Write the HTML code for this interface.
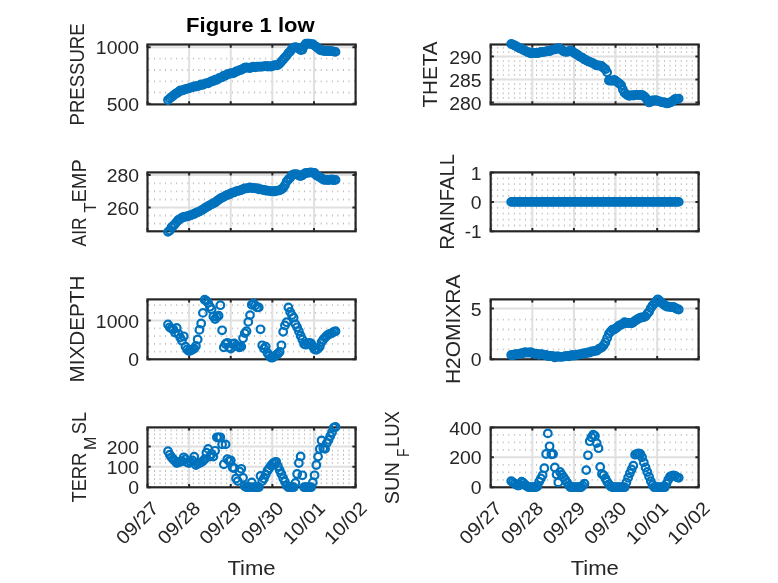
<!DOCTYPE html>
<html lang="en"><head><meta charset="utf-8"><title>Figure 1 low</title>
<style>html,body{margin:0;padding:0;background:#fff}svg{display:block}</style></head><body>
<svg width="778" height="583" viewBox="0 0 778 583" font-family='"Liberation Sans", "DejaVu Sans", sans-serif' fill="#262626">
<rect width="778" height="583" fill="#ffffff"/>
<g>
<path d="M148.4 58.6H355.6M148.4 70H355.6M148.4 81.3H355.6M148.4 92.5H355.6" stroke="#bcbcbc" stroke-width="1.8" stroke-dasharray="1 4.56" fill="none"/>
<path d="M189.12 44.5V104.4M230.74 44.5V104.4M272.36 44.5V104.4M313.98 44.5V104.4M147.5 47.2H355.6" stroke="#e0e0e0" stroke-width="2" fill="none"/>
<rect x="147.5" y="44.5" width="208.1" height="59.9" fill="none" stroke="#262626" stroke-width="2.2"/>
<path d="M147.5 104.4v-3.2M147.5 44.5v3.2M189.12 104.4v-3.2M189.12 44.5v3.2M230.74 104.4v-3.2M230.74 44.5v3.2M272.36 104.4v-3.2M272.36 44.5v3.2M313.98 104.4v-3.2M313.98 44.5v3.2M355.6 104.4v-3.2M355.6 44.5v3.2M147.5 47.2h3.2M355.6 47.2h-3.2M147.5 103.7h3.2M355.6 103.7h-3.2" stroke="#262626" stroke-width="2" fill="none"/>
<text x="139" y="54.3" font-size="18.8" text-anchor="end" textLength="43.13" lengthAdjust="spacingAndGlyphs">1000</text>
<text x="139" y="110.8" font-size="18.8" text-anchor="end" textLength="32.35" lengthAdjust="spacingAndGlyphs">500</text>
<g fill="none" stroke="#0072BD" stroke-width="2.2"><circle cx="168" cy="100.03" r="3.8"/><circle cx="169.75" cy="98.4" r="3.8"/><circle cx="171.49" cy="97.07" r="3.8"/><circle cx="173.24" cy="95.7" r="3.8"/><circle cx="174.98" cy="94.15" r="3.8"/><circle cx="176.72" cy="93.2" r="3.8"/><circle cx="178.47" cy="92.01" r="3.8"/><circle cx="180.22" cy="90.34" r="3.8"/><circle cx="181.96" cy="90.64" r="3.8"/><circle cx="183.71" cy="89.98" r="3.8"/><circle cx="185.45" cy="89.08" r="3.8"/><circle cx="187.19" cy="88.68" r="3.8"/><circle cx="188.94" cy="88.36" r="3.8"/><circle cx="190.69" cy="87.66" r="3.8"/><circle cx="192.43" cy="87.2" r="3.8"/><circle cx="194.18" cy="86.37" r="3.8"/><circle cx="195.92" cy="86.51" r="3.8"/><circle cx="197.66" cy="85.92" r="3.8"/><circle cx="199.41" cy="85.49" r="3.8"/><circle cx="201.16" cy="84.49" r="3.8"/><circle cx="202.9" cy="84.91" r="3.8"/><circle cx="204.65" cy="83.91" r="3.8"/><circle cx="206.39" cy="83.2" r="3.8"/><circle cx="208.13" cy="83.37" r="3.8"/><circle cx="209.88" cy="82.19" r="3.8"/><circle cx="211.62" cy="81.22" r="3.8"/><circle cx="213.37" cy="80.98" r="3.8"/><circle cx="215.12" cy="79.66" r="3.8"/><circle cx="216.86" cy="79.8" r="3.8"/><circle cx="218.61" cy="78.5" r="3.8"/><circle cx="220.35" cy="77.54" r="3.8"/><circle cx="222.09" cy="77.22" r="3.8"/><circle cx="223.84" cy="75.61" r="3.8"/><circle cx="225.59" cy="75.62" r="3.8"/><circle cx="227.33" cy="74.19" r="3.8"/><circle cx="229.07" cy="73.97" r="3.8"/><circle cx="230.82" cy="73.16" r="3.8"/><circle cx="232.56" cy="73.31" r="3.8"/><circle cx="234.31" cy="72.74" r="3.8"/><circle cx="236.06" cy="71.45" r="3.8"/><circle cx="237.8" cy="71.14" r="3.8"/><circle cx="239.55" cy="70.18" r="3.8"/><circle cx="241.29" cy="69.74" r="3.8"/><circle cx="243.04" cy="68.68" r="3.8"/><circle cx="244.78" cy="67.73" r="3.8"/><circle cx="246.53" cy="67.42" r="3.8"/><circle cx="248.27" cy="67.82" r="3.8"/><circle cx="250.01" cy="68.12" r="3.8"/><circle cx="251.76" cy="67.26" r="3.8"/><circle cx="253.5" cy="66.77" r="3.8"/><circle cx="255.25" cy="67.24" r="3.8"/><circle cx="257" cy="66.71" r="3.8"/><circle cx="258.74" cy="66.71" r="3.8"/><circle cx="260.49" cy="66.72" r="3.8"/><circle cx="262.23" cy="66.53" r="3.8"/><circle cx="263.98" cy="66.4" r="3.8"/><circle cx="265.72" cy="65.99" r="3.8"/><circle cx="267.47" cy="66.5" r="3.8"/><circle cx="269.21" cy="66.24" r="3.8"/><circle cx="270.96" cy="66.55" r="3.8"/><circle cx="272.7" cy="66.01" r="3.8"/><circle cx="274.44" cy="65.12" r="3.8"/><circle cx="276.19" cy="65.12" r="3.8"/><circle cx="277.94" cy="65.13" r="3.8"/><circle cx="279.68" cy="63.66" r="3.8"/><circle cx="281.43" cy="61.53" r="3.8"/><circle cx="283.17" cy="59.47" r="3.8"/><circle cx="284.92" cy="57.55" r="3.8"/><circle cx="286.66" cy="55.59" r="3.8"/><circle cx="288.4" cy="53.04" r="3.8"/><circle cx="290.15" cy="51.56" r="3.8"/><circle cx="291.89" cy="48.75" r="3.8"/><circle cx="293.64" cy="47.7" r="3.8"/><circle cx="295.38" cy="47.27" r="3.8"/><circle cx="297.13" cy="47.53" r="3.8"/><circle cx="298.88" cy="48.43" r="3.8"/><circle cx="300.62" cy="50.02" r="3.8"/><circle cx="302.37" cy="49.71" r="3.8"/><circle cx="304.11" cy="46" r="3.8"/><circle cx="305.86" cy="43.72" r="3.8"/><circle cx="307.6" cy="43.72" r="3.8"/><circle cx="309.35" cy="43.62" r="3.8"/><circle cx="311.09" cy="44.07" r="3.8"/><circle cx="312.84" cy="44.26" r="3.8"/><circle cx="314.58" cy="45.61" r="3.8"/><circle cx="316.33" cy="46.8" r="3.8"/><circle cx="318.07" cy="48.21" r="3.8"/><circle cx="319.81" cy="49.82" r="3.8"/><circle cx="321.56" cy="50.46" r="3.8"/><circle cx="323.31" cy="50.77" r="3.8"/><circle cx="325.05" cy="51.02" r="3.8"/><circle cx="326.8" cy="51.14" r="3.8"/><circle cx="328.54" cy="51.02" r="3.8"/><circle cx="330.28" cy="51.09" r="3.8"/><circle cx="332.03" cy="51.17" r="3.8"/><circle cx="333.77" cy="51.61" r="3.8"/><circle cx="335.52" cy="51.89" r="3.8"/></g>
</g>
<g>
<path d="M491.6 47.9H698.6M491.6 52.1H698.6M491.6 61.2H698.6M491.6 65.7H698.6M491.6 70.4H698.6M491.6 74.9H698.6M491.6 84.1H698.6M491.6 88.7H698.6M491.6 93.3H698.6M491.6 97.9H698.6" stroke="#bcbcbc" stroke-width="1.8" stroke-dasharray="1 4.56" fill="none"/>
<path d="M532.32 44.5V104.4M573.94 44.5V104.4M615.56 44.5V104.4M657.18 44.5V104.4M490.7 56.5H698.6M490.7 79.55H698.6M490.7 102.5H698.6" stroke="#e0e0e0" stroke-width="2" fill="none"/>
<rect x="490.7" y="44.5" width="207.9" height="59.9" fill="none" stroke="#262626" stroke-width="2.2"/>
<path d="M490.7 104.4v-3.2M490.7 44.5v3.2M532.32 104.4v-3.2M532.32 44.5v3.2M573.94 104.4v-3.2M573.94 44.5v3.2M615.56 104.4v-3.2M615.56 44.5v3.2M657.18 104.4v-3.2M657.18 44.5v3.2M698.8 104.4v-3.2M698.8 44.5v3.2M490.7 56.5h3.2M698.6 56.5h-3.2M490.7 79.55h3.2M698.6 79.55h-3.2M490.7 102.5h3.2M698.6 102.5h-3.2" stroke="#262626" stroke-width="2" fill="none"/>
<text x="481.6" y="63.6" font-size="18.8" text-anchor="end" textLength="32.35" lengthAdjust="spacingAndGlyphs">290</text>
<text x="481.6" y="86.65" font-size="18.8" text-anchor="end" textLength="32.35" lengthAdjust="spacingAndGlyphs">285</text>
<text x="481.6" y="109.6" font-size="18.8" text-anchor="end" textLength="32.35" lengthAdjust="spacingAndGlyphs">280</text>
<g fill="none" stroke="#0072BD" stroke-width="2.2"><circle cx="511.2" cy="43.9" r="3.8"/><circle cx="512.94" cy="44.65" r="3.8"/><circle cx="514.69" cy="45.51" r="3.8"/><circle cx="516.43" cy="46.3" r="3.8"/><circle cx="518.18" cy="47.54" r="3.8"/><circle cx="519.92" cy="48.41" r="3.8"/><circle cx="521.67" cy="48.72" r="3.8"/><circle cx="523.41" cy="50.16" r="3.8"/><circle cx="525.16" cy="50.61" r="3.8"/><circle cx="526.9" cy="51.9" r="3.8"/><circle cx="528.65" cy="52.21" r="3.8"/><circle cx="530.39" cy="53.38" r="3.8"/><circle cx="532.14" cy="53.1" r="3.8"/><circle cx="533.88" cy="52.98" r="3.8"/><circle cx="535.63" cy="52.99" r="3.8"/><circle cx="537.38" cy="53.05" r="3.8"/><circle cx="539.12" cy="52.73" r="3.8"/><circle cx="540.87" cy="51.95" r="3.8"/><circle cx="542.61" cy="52.13" r="3.8"/><circle cx="544.36" cy="51.85" r="3.8"/><circle cx="546.1" cy="51.47" r="3.8"/><circle cx="547.85" cy="50.95" r="3.8"/><circle cx="549.59" cy="51.22" r="3.8"/><circle cx="551.34" cy="50.12" r="3.8"/><circle cx="553.08" cy="49.53" r="3.8"/><circle cx="554.83" cy="49.42" r="3.8"/><circle cx="556.57" cy="48.7" r="3.8"/><circle cx="558.31" cy="48.07" r="3.8"/><circle cx="560.06" cy="48.7" r="3.8"/><circle cx="561.8" cy="49.96" r="3.8"/><circle cx="563.55" cy="51.27" r="3.8"/><circle cx="565.29" cy="51.77" r="3.8"/><circle cx="567.04" cy="51.85" r="3.8"/><circle cx="568.78" cy="51.27" r="3.8"/><circle cx="570.53" cy="50.48" r="3.8"/><circle cx="572.27" cy="51.29" r="3.8"/><circle cx="574.02" cy="52.83" r="3.8"/><circle cx="575.76" cy="53.77" r="3.8"/><circle cx="577.51" cy="54.75" r="3.8"/><circle cx="579.25" cy="56.41" r="3.8"/><circle cx="581" cy="57.07" r="3.8"/><circle cx="582.75" cy="57.94" r="3.8"/><circle cx="584.49" cy="59.52" r="3.8"/><circle cx="586.24" cy="60.08" r="3.8"/><circle cx="587.98" cy="61.33" r="3.8"/><circle cx="589.73" cy="61.9" r="3.8"/><circle cx="591.47" cy="62.59" r="3.8"/><circle cx="593.22" cy="63.41" r="3.8"/><circle cx="594.96" cy="64.49" r="3.8"/><circle cx="596.71" cy="65.42" r="3.8"/><circle cx="598.45" cy="65.45" r="3.8"/><circle cx="600.19" cy="65.62" r="3.8"/><circle cx="601.94" cy="66.2" r="3.8"/><circle cx="603.68" cy="68.13" r="3.8"/><circle cx="605.43" cy="69.21" r="3.8"/><circle cx="607.17" cy="72.34" r="3.8"/><circle cx="608.92" cy="80.51" r="3.8"/><circle cx="610.66" cy="80.63" r="3.8"/><circle cx="612.41" cy="80.81" r="3.8"/><circle cx="614.15" cy="79.83" r="3.8"/><circle cx="615.9" cy="80.9" r="3.8"/><circle cx="617.64" cy="82.35" r="3.8"/><circle cx="619.39" cy="83.59" r="3.8"/><circle cx="621.13" cy="85.14" r="3.8"/><circle cx="622.88" cy="89.53" r="3.8"/><circle cx="624.62" cy="92.89" r="3.8"/><circle cx="626.37" cy="94.34" r="3.8"/><circle cx="628.12" cy="95.54" r="3.8"/><circle cx="629.86" cy="95.73" r="3.8"/><circle cx="631.61" cy="95.19" r="3.8"/><circle cx="633.35" cy="95.55" r="3.8"/><circle cx="635.1" cy="94.97" r="3.8"/><circle cx="636.84" cy="94.96" r="3.8"/><circle cx="638.59" cy="94.88" r="3.8"/><circle cx="640.33" cy="95.09" r="3.8"/><circle cx="642.08" cy="94.92" r="3.8"/><circle cx="643.82" cy="96.07" r="3.8"/><circle cx="645.57" cy="97.66" r="3.8"/><circle cx="647.31" cy="100.06" r="3.8"/><circle cx="649.06" cy="102.47" r="3.8"/><circle cx="650.8" cy="101.69" r="3.8"/><circle cx="652.54" cy="100.46" r="3.8"/><circle cx="654.29" cy="100.39" r="3.8"/><circle cx="656.03" cy="100.18" r="3.8"/><circle cx="657.78" cy="100.89" r="3.8"/><circle cx="659.52" cy="101.31" r="3.8"/><circle cx="661.27" cy="102.12" r="3.8"/><circle cx="663.01" cy="102.44" r="3.8"/><circle cx="664.76" cy="102.5" r="3.8"/><circle cx="666.5" cy="103.29" r="3.8"/><circle cx="668.25" cy="103.32" r="3.8"/><circle cx="670" cy="102.43" r="3.8"/><circle cx="671.74" cy="101.86" r="3.8"/><circle cx="673.49" cy="100.2" r="3.8"/><circle cx="675.23" cy="98.96" r="3.8"/><circle cx="676.98" cy="99.22" r="3.8"/><circle cx="678.72" cy="98.61" r="3.8"/></g>
</g>
<g>
<path d="M148.4 183.3H355.6M148.4 191.4H355.6M148.4 199.5H355.6M148.4 215.5H355.6M148.4 223.5H355.6" stroke="#bcbcbc" stroke-width="1.8" stroke-dasharray="1 4.56" fill="none"/>
<path d="M189.12 172.4V231.3M230.74 172.4V231.3M272.36 172.4V231.3M313.98 172.4V231.3M147.5 175.1H355.6M147.5 207.5H355.6" stroke="#e0e0e0" stroke-width="2" fill="none"/>
<rect x="147.5" y="172.4" width="208.1" height="58.9" fill="none" stroke="#262626" stroke-width="2.2"/>
<path d="M147.5 231.3v-3.2M147.5 172.4v3.2M189.12 231.3v-3.2M189.12 172.4v3.2M230.74 231.3v-3.2M230.74 172.4v3.2M272.36 231.3v-3.2M272.36 172.4v3.2M313.98 231.3v-3.2M313.98 172.4v3.2M355.6 231.3v-3.2M355.6 172.4v3.2M147.5 175.1h3.2M355.6 175.1h-3.2M147.5 207.5h3.2M355.6 207.5h-3.2" stroke="#262626" stroke-width="2" fill="none"/>
<text x="139" y="182.2" font-size="18.8" text-anchor="end" textLength="32.35" lengthAdjust="spacingAndGlyphs">280</text>
<text x="139" y="214.6" font-size="18.8" text-anchor="end" textLength="32.35" lengthAdjust="spacingAndGlyphs">260</text>
<g fill="none" stroke="#0072BD" stroke-width="2.2"><circle cx="168" cy="231.87" r="3.8"/><circle cx="169.75" cy="230.44" r="3.8"/><circle cx="171.49" cy="227.21" r="3.8"/><circle cx="173.24" cy="225.94" r="3.8"/><circle cx="174.98" cy="224.01" r="3.8"/><circle cx="176.72" cy="221.88" r="3.8"/><circle cx="178.47" cy="219.83" r="3.8"/><circle cx="180.22" cy="219.14" r="3.8"/><circle cx="181.96" cy="217.58" r="3.8"/><circle cx="183.71" cy="216.99" r="3.8"/><circle cx="185.45" cy="216.67" r="3.8"/><circle cx="187.19" cy="216.43" r="3.8"/><circle cx="188.94" cy="215.75" r="3.8"/><circle cx="190.69" cy="215.38" r="3.8"/><circle cx="192.43" cy="214.48" r="3.8"/><circle cx="194.18" cy="213.96" r="3.8"/><circle cx="195.92" cy="212.78" r="3.8"/><circle cx="197.66" cy="212.15" r="3.8"/><circle cx="199.41" cy="211.53" r="3.8"/><circle cx="201.16" cy="210.38" r="3.8"/><circle cx="202.9" cy="209.56" r="3.8"/><circle cx="204.65" cy="208.19" r="3.8"/><circle cx="206.39" cy="207.13" r="3.8"/><circle cx="208.13" cy="206.27" r="3.8"/><circle cx="209.88" cy="205.16" r="3.8"/><circle cx="211.62" cy="204.35" r="3.8"/><circle cx="213.37" cy="203.19" r="3.8"/><circle cx="215.12" cy="202.61" r="3.8"/><circle cx="216.86" cy="200.92" r="3.8"/><circle cx="218.61" cy="199.8" r="3.8"/><circle cx="220.35" cy="198.43" r="3.8"/><circle cx="222.09" cy="197.63" r="3.8"/><circle cx="223.84" cy="196.87" r="3.8"/><circle cx="225.59" cy="195.63" r="3.8"/><circle cx="227.33" cy="195.02" r="3.8"/><circle cx="229.07" cy="194.44" r="3.8"/><circle cx="230.82" cy="193.42" r="3.8"/><circle cx="232.56" cy="192.6" r="3.8"/><circle cx="234.31" cy="192.36" r="3.8"/><circle cx="236.06" cy="191.4" r="3.8"/><circle cx="237.8" cy="190.83" r="3.8"/><circle cx="239.55" cy="190.54" r="3.8"/><circle cx="241.29" cy="190" r="3.8"/><circle cx="243.04" cy="189.03" r="3.8"/><circle cx="244.78" cy="188.45" r="3.8"/><circle cx="246.53" cy="188.45" r="3.8"/><circle cx="248.27" cy="188.08" r="3.8"/><circle cx="250.01" cy="187.32" r="3.8"/><circle cx="251.76" cy="188.03" r="3.8"/><circle cx="253.5" cy="187.88" r="3.8"/><circle cx="255.25" cy="188.43" r="3.8"/><circle cx="257" cy="188.19" r="3.8"/><circle cx="258.74" cy="189.34" r="3.8"/><circle cx="260.49" cy="189.21" r="3.8"/><circle cx="262.23" cy="189.78" r="3.8"/><circle cx="263.98" cy="189.83" r="3.8"/><circle cx="265.72" cy="190.49" r="3.8"/><circle cx="267.47" cy="190.68" r="3.8"/><circle cx="269.21" cy="190.91" r="3.8"/><circle cx="270.96" cy="191.32" r="3.8"/><circle cx="272.7" cy="191.26" r="3.8"/><circle cx="274.44" cy="191.42" r="3.8"/><circle cx="276.19" cy="190.87" r="3.8"/><circle cx="277.94" cy="190.59" r="3.8"/><circle cx="279.68" cy="190.4" r="3.8"/><circle cx="281.43" cy="189.17" r="3.8"/><circle cx="283.17" cy="187.93" r="3.8"/><circle cx="284.92" cy="185.21" r="3.8"/><circle cx="286.66" cy="181.48" r="3.8"/><circle cx="288.4" cy="179.43" r="3.8"/><circle cx="290.15" cy="177.73" r="3.8"/><circle cx="291.89" cy="175.29" r="3.8"/><circle cx="293.64" cy="174.28" r="3.8"/><circle cx="295.38" cy="174.06" r="3.8"/><circle cx="297.13" cy="174.28" r="3.8"/><circle cx="298.88" cy="175.6" r="3.8"/><circle cx="300.62" cy="175.99" r="3.8"/><circle cx="302.37" cy="175.26" r="3.8"/><circle cx="304.11" cy="173.84" r="3.8"/><circle cx="305.86" cy="172.83" r="3.8"/><circle cx="307.6" cy="172.86" r="3.8"/><circle cx="309.35" cy="172.58" r="3.8"/><circle cx="311.09" cy="172.35" r="3.8"/><circle cx="312.84" cy="172.83" r="3.8"/><circle cx="314.58" cy="172.93" r="3.8"/><circle cx="316.33" cy="175.36" r="3.8"/><circle cx="318.07" cy="176.38" r="3.8"/><circle cx="319.81" cy="177.1" r="3.8"/><circle cx="321.56" cy="178.26" r="3.8"/><circle cx="323.31" cy="179.55" r="3.8"/><circle cx="325.05" cy="179.94" r="3.8"/><circle cx="326.8" cy="179.77" r="3.8"/><circle cx="328.54" cy="180.03" r="3.8"/><circle cx="330.28" cy="179.57" r="3.8"/><circle cx="332.03" cy="179.5" r="3.8"/><circle cx="333.77" cy="180.17" r="3.8"/><circle cx="335.52" cy="179.9" r="3.8"/></g>
</g>
<g>
<path d="M491.6 178.3H698.6M491.6 184.2H698.6M491.6 190.1H698.6M491.6 196H698.6M491.6 207.8H698.6M491.6 213.7H698.6M491.6 219.6H698.6M491.6 225.5H698.6" stroke="#bcbcbc" stroke-width="1.8" stroke-dasharray="1 4.56" fill="none"/>
<path d="M532.32 172.4V231.3M573.94 172.4V231.3M615.56 172.4V231.3M657.18 172.4V231.3M490.7 172.4H698.6M490.7 201.9H698.6" stroke="#e0e0e0" stroke-width="2" fill="none"/>
<rect x="490.7" y="172.4" width="207.9" height="58.9" fill="none" stroke="#262626" stroke-width="2.2"/>
<path d="M490.7 231.3v-3.2M490.7 172.4v3.2M532.32 231.3v-3.2M532.32 172.4v3.2M573.94 231.3v-3.2M573.94 172.4v3.2M615.56 231.3v-3.2M615.56 172.4v3.2M657.18 231.3v-3.2M657.18 172.4v3.2M698.8 231.3v-3.2M698.8 172.4v3.2M490.7 172.4h3.2M698.6 172.4h-3.2M490.7 201.9h3.2M698.6 201.9h-3.2M490.7 231.3h3.2M698.6 231.3h-3.2" stroke="#262626" stroke-width="2" fill="none"/>
<text x="481.6" y="179.5" font-size="18.8" text-anchor="end" textLength="10.78" lengthAdjust="spacingAndGlyphs">1</text>
<text x="481.6" y="209" font-size="18.8" text-anchor="end" textLength="10.78" lengthAdjust="spacingAndGlyphs">0</text>
<text x="481.6" y="238.4" font-size="18.8" text-anchor="end" textLength="16.85" lengthAdjust="spacingAndGlyphs">-1</text>
<g fill="none" stroke="#0072BD" stroke-width="2.2"><circle cx="511.2" cy="201.9" r="3.8"/><circle cx="512.94" cy="201.9" r="3.8"/><circle cx="514.69" cy="201.9" r="3.8"/><circle cx="516.43" cy="201.9" r="3.8"/><circle cx="518.18" cy="201.9" r="3.8"/><circle cx="519.92" cy="201.9" r="3.8"/><circle cx="521.67" cy="201.9" r="3.8"/><circle cx="523.41" cy="201.9" r="3.8"/><circle cx="525.16" cy="201.9" r="3.8"/><circle cx="526.9" cy="201.9" r="3.8"/><circle cx="528.65" cy="201.9" r="3.8"/><circle cx="530.39" cy="201.9" r="3.8"/><circle cx="532.14" cy="201.9" r="3.8"/><circle cx="533.88" cy="201.9" r="3.8"/><circle cx="535.63" cy="201.9" r="3.8"/><circle cx="537.38" cy="201.9" r="3.8"/><circle cx="539.12" cy="201.9" r="3.8"/><circle cx="540.87" cy="201.9" r="3.8"/><circle cx="542.61" cy="201.9" r="3.8"/><circle cx="544.36" cy="201.9" r="3.8"/><circle cx="546.1" cy="201.9" r="3.8"/><circle cx="547.85" cy="201.9" r="3.8"/><circle cx="549.59" cy="201.9" r="3.8"/><circle cx="551.34" cy="201.9" r="3.8"/><circle cx="553.08" cy="201.9" r="3.8"/><circle cx="554.83" cy="201.9" r="3.8"/><circle cx="556.57" cy="201.9" r="3.8"/><circle cx="558.31" cy="201.9" r="3.8"/><circle cx="560.06" cy="201.9" r="3.8"/><circle cx="561.8" cy="201.9" r="3.8"/><circle cx="563.55" cy="201.9" r="3.8"/><circle cx="565.29" cy="201.9" r="3.8"/><circle cx="567.04" cy="201.9" r="3.8"/><circle cx="568.78" cy="201.9" r="3.8"/><circle cx="570.53" cy="201.9" r="3.8"/><circle cx="572.27" cy="201.9" r="3.8"/><circle cx="574.02" cy="201.9" r="3.8"/><circle cx="575.76" cy="201.9" r="3.8"/><circle cx="577.51" cy="201.9" r="3.8"/><circle cx="579.25" cy="201.9" r="3.8"/><circle cx="581" cy="201.9" r="3.8"/><circle cx="582.75" cy="201.9" r="3.8"/><circle cx="584.49" cy="201.9" r="3.8"/><circle cx="586.24" cy="201.9" r="3.8"/><circle cx="587.98" cy="201.9" r="3.8"/><circle cx="589.73" cy="201.9" r="3.8"/><circle cx="591.47" cy="201.9" r="3.8"/><circle cx="593.22" cy="201.9" r="3.8"/><circle cx="594.96" cy="201.9" r="3.8"/><circle cx="596.71" cy="201.9" r="3.8"/><circle cx="598.45" cy="201.9" r="3.8"/><circle cx="600.19" cy="201.9" r="3.8"/><circle cx="601.94" cy="201.9" r="3.8"/><circle cx="603.68" cy="201.9" r="3.8"/><circle cx="605.43" cy="201.9" r="3.8"/><circle cx="607.17" cy="201.9" r="3.8"/><circle cx="608.92" cy="201.9" r="3.8"/><circle cx="610.66" cy="201.9" r="3.8"/><circle cx="612.41" cy="201.9" r="3.8"/><circle cx="614.15" cy="201.9" r="3.8"/><circle cx="615.9" cy="201.9" r="3.8"/><circle cx="617.64" cy="201.9" r="3.8"/><circle cx="619.39" cy="201.9" r="3.8"/><circle cx="621.13" cy="201.9" r="3.8"/><circle cx="622.88" cy="201.9" r="3.8"/><circle cx="624.62" cy="201.9" r="3.8"/><circle cx="626.37" cy="201.9" r="3.8"/><circle cx="628.12" cy="201.9" r="3.8"/><circle cx="629.86" cy="201.9" r="3.8"/><circle cx="631.61" cy="201.9" r="3.8"/><circle cx="633.35" cy="201.9" r="3.8"/><circle cx="635.1" cy="201.9" r="3.8"/><circle cx="636.84" cy="201.9" r="3.8"/><circle cx="638.59" cy="201.9" r="3.8"/><circle cx="640.33" cy="201.9" r="3.8"/><circle cx="642.08" cy="201.9" r="3.8"/><circle cx="643.82" cy="201.9" r="3.8"/><circle cx="645.57" cy="201.9" r="3.8"/><circle cx="647.31" cy="201.9" r="3.8"/><circle cx="649.06" cy="201.9" r="3.8"/><circle cx="650.8" cy="201.9" r="3.8"/><circle cx="652.54" cy="201.9" r="3.8"/><circle cx="654.29" cy="201.9" r="3.8"/><circle cx="656.03" cy="201.9" r="3.8"/><circle cx="657.78" cy="201.9" r="3.8"/><circle cx="659.52" cy="201.9" r="3.8"/><circle cx="661.27" cy="201.9" r="3.8"/><circle cx="663.01" cy="201.9" r="3.8"/><circle cx="664.76" cy="201.9" r="3.8"/><circle cx="666.5" cy="201.9" r="3.8"/><circle cx="668.25" cy="201.9" r="3.8"/><circle cx="670" cy="201.9" r="3.8"/><circle cx="671.74" cy="201.9" r="3.8"/><circle cx="673.49" cy="201.9" r="3.8"/><circle cx="675.23" cy="201.9" r="3.8"/><circle cx="676.98" cy="201.9" r="3.8"/><circle cx="678.72" cy="201.9" r="3.8"/></g>
</g>
<g>
<path d="M148.4 351.56H355.6M148.4 343.82H355.6M148.4 336.08H355.6M148.4 328.34H355.6M148.4 312.86H355.6M148.4 305.12H355.6" stroke="#bcbcbc" stroke-width="1.8" stroke-dasharray="1 4.56" fill="none"/>
<path d="M189.12 299.4V359.3M230.74 299.4V359.3M272.36 299.4V359.3M313.98 299.4V359.3M147.5 320.6H355.6" stroke="#e0e0e0" stroke-width="2" fill="none"/>
<rect x="147.5" y="299.4" width="208.1" height="59.9" fill="none" stroke="#262626" stroke-width="2.2"/>
<path d="M147.5 359.3v-3.2M147.5 299.4v3.2M189.12 359.3v-3.2M189.12 299.4v3.2M230.74 359.3v-3.2M230.74 299.4v3.2M272.36 359.3v-3.2M272.36 299.4v3.2M313.98 359.3v-3.2M313.98 299.4v3.2M355.6 359.3v-3.2M355.6 299.4v3.2M147.5 320.6h3.2M355.6 320.6h-3.2M147.5 359.3h3.2M355.6 359.3h-3.2" stroke="#262626" stroke-width="2" fill="none"/>
<text x="139" y="327.7" font-size="18.8" text-anchor="end" textLength="43.13" lengthAdjust="spacingAndGlyphs">1000</text>
<text x="139" y="366.4" font-size="18.8" text-anchor="end" textLength="10.78" lengthAdjust="spacingAndGlyphs">0</text>
<g fill="none" stroke="#0072BD" stroke-width="2.2"><circle cx="168" cy="324.5" r="3.8"/><circle cx="169.75" cy="327.3" r="3.8"/><circle cx="171.49" cy="328.6" r="3.8"/><circle cx="173.24" cy="329.3" r="3.8"/><circle cx="174.98" cy="332.5" r="3.8"/><circle cx="176.72" cy="328" r="3.8"/><circle cx="178.47" cy="333.8" r="3.8"/><circle cx="180.22" cy="337.6" r="3.8"/><circle cx="181.96" cy="340.8" r="3.8"/><circle cx="183.71" cy="336.3" r="3.8"/><circle cx="185.45" cy="346.6" r="3.8"/><circle cx="187.19" cy="349.5" r="3.8"/><circle cx="188.94" cy="351.1" r="3.8"/><circle cx="190.69" cy="350.5" r="3.8"/><circle cx="192.43" cy="349.5" r="3.8"/><circle cx="194.18" cy="348.6" r="3.8"/><circle cx="195.92" cy="346" r="3.8"/><circle cx="197.66" cy="339.5" r="3.8"/><circle cx="199.41" cy="329.9" r="3.8"/><circle cx="201.16" cy="323.5" r="3.8"/><circle cx="202.9" cy="312.9" r="3.8"/><circle cx="204.65" cy="299.7" r="3.8"/><circle cx="206.39" cy="300.9" r="3.8"/><circle cx="208.13" cy="302.9" r="3.8"/><circle cx="209.88" cy="306.7" r="3.8"/><circle cx="211.62" cy="309.3" r="3.8"/><circle cx="213.37" cy="316.4" r="3.8"/><circle cx="215.12" cy="319" r="3.8"/><circle cx="216.86" cy="317" r="3.8"/><circle cx="218.61" cy="315.7" r="3.8"/><circle cx="220.35" cy="305.2" r="3.8"/><circle cx="222.09" cy="330.3" r="3.8"/><circle cx="223.84" cy="347.3" r="3.8"/><circle cx="225.59" cy="344" r="3.8"/><circle cx="227.33" cy="342.8" r="3.8"/><circle cx="229.07" cy="347.3" r="3.8"/><circle cx="230.82" cy="348.6" r="3.8"/><circle cx="232.56" cy="344" r="3.8"/><circle cx="234.31" cy="343.4" r="3.8"/><circle cx="236.06" cy="346" r="3.8"/><circle cx="237.8" cy="346.6" r="3.8"/><circle cx="239.55" cy="347.3" r="3.8"/><circle cx="241.29" cy="346.6" r="3.8"/><circle cx="243.04" cy="338.3" r="3.8"/><circle cx="244.78" cy="333.1" r="3.8"/><circle cx="246.53" cy="331.2" r="3.8"/><circle cx="248.27" cy="321.9" r="3.8"/><circle cx="250.01" cy="315.1" r="3.8"/><circle cx="251.76" cy="304.8" r="3.8"/><circle cx="253.5" cy="303.5" r="3.8"/><circle cx="255.25" cy="305.4" r="3.8"/><circle cx="257" cy="307.4" r="3.8"/><circle cx="258.74" cy="307.4" r="3.8"/><circle cx="260.49" cy="329.3" r="3.8"/><circle cx="262.23" cy="345.3" r="3.8"/><circle cx="263.98" cy="348.6" r="3.8"/><circle cx="265.72" cy="346.6" r="3.8"/><circle cx="267.47" cy="353" r="3.8"/><circle cx="269.21" cy="355.6" r="3.8"/><circle cx="270.96" cy="357.6" r="3.8"/><circle cx="272.7" cy="357.6" r="3.8"/><circle cx="274.44" cy="356.3" r="3.8"/><circle cx="276.19" cy="355" r="3.8"/><circle cx="277.94" cy="353.7" r="3.8"/><circle cx="279.68" cy="351.8" r="3.8"/><circle cx="281.43" cy="345.3" r="3.8"/><circle cx="283.17" cy="331.8" r="3.8"/><circle cx="284.92" cy="325.4" r="3.8"/><circle cx="286.66" cy="322.2" r="3.8"/><circle cx="288.4" cy="307.4" r="3.8"/><circle cx="290.15" cy="311.9" r="3.8"/><circle cx="291.89" cy="315.1" r="3.8"/><circle cx="293.64" cy="317.7" r="3.8"/><circle cx="295.38" cy="324.1" r="3.8"/><circle cx="297.13" cy="327.3" r="3.8"/><circle cx="298.88" cy="331.2" r="3.8"/><circle cx="300.62" cy="335.7" r="3.8"/><circle cx="302.37" cy="339.5" r="3.8"/><circle cx="304.11" cy="344" r="3.8"/><circle cx="305.86" cy="344.7" r="3.8"/><circle cx="307.6" cy="343.4" r="3.8"/><circle cx="309.35" cy="342.8" r="3.8"/><circle cx="311.09" cy="343.4" r="3.8"/><circle cx="312.84" cy="346.6" r="3.8"/><circle cx="314.58" cy="349.2" r="3.8"/><circle cx="316.33" cy="349.8" r="3.8"/><circle cx="318.07" cy="348.6" r="3.8"/><circle cx="319.81" cy="346.6" r="3.8"/><circle cx="321.56" cy="342.1" r="3.8"/><circle cx="323.31" cy="339.5" r="3.8"/><circle cx="325.05" cy="337.6" r="3.8"/><circle cx="326.8" cy="335.7" r="3.8"/><circle cx="328.54" cy="334.4" r="3.8"/><circle cx="330.28" cy="333.8" r="3.8"/><circle cx="332.03" cy="333.1" r="3.8"/><circle cx="333.77" cy="331.8" r="3.8"/><circle cx="335.52" cy="331.2" r="3.8"/></g>
</g>
<g>
<path d="M491.6 319.6H698.6M491.6 329.5H698.6M491.6 339.45H698.6M491.6 349.3H698.6" stroke="#bcbcbc" stroke-width="1.8" stroke-dasharray="1 4.56" fill="none"/>
<path d="M532.32 299.4V359.3M573.94 299.4V359.3M615.56 299.4V359.3M657.18 299.4V359.3M490.7 308.4H698.6" stroke="#e0e0e0" stroke-width="2" fill="none"/>
<rect x="490.7" y="299.4" width="207.9" height="59.9" fill="none" stroke="#262626" stroke-width="2.2"/>
<path d="M490.7 359.3v-3.2M490.7 299.4v3.2M532.32 359.3v-3.2M532.32 299.4v3.2M573.94 359.3v-3.2M573.94 299.4v3.2M615.56 359.3v-3.2M615.56 299.4v3.2M657.18 359.3v-3.2M657.18 299.4v3.2M698.8 359.3v-3.2M698.8 299.4v3.2M490.7 308.4h3.2M698.6 308.4h-3.2M490.7 359.3h3.2M698.6 359.3h-3.2" stroke="#262626" stroke-width="2" fill="none"/>
<text x="481.6" y="315.5" font-size="18.8" text-anchor="end" textLength="10.78" lengthAdjust="spacingAndGlyphs">5</text>
<text x="481.6" y="366.4" font-size="18.8" text-anchor="end" textLength="10.78" lengthAdjust="spacingAndGlyphs">0</text>
<g fill="none" stroke="#0072BD" stroke-width="2.2"><circle cx="511.2" cy="355" r="3.8"/><circle cx="512.94" cy="355.18" r="3.8"/><circle cx="514.69" cy="354.29" r="3.8"/><circle cx="516.43" cy="354.23" r="3.8"/><circle cx="518.18" cy="354.27" r="3.8"/><circle cx="519.92" cy="354.06" r="3.8"/><circle cx="521.67" cy="353.06" r="3.8"/><circle cx="523.41" cy="353.11" r="3.8"/><circle cx="525.16" cy="352.27" r="3.8"/><circle cx="526.9" cy="352.65" r="3.8"/><circle cx="528.65" cy="352.59" r="3.8"/><circle cx="530.39" cy="352.26" r="3.8"/><circle cx="532.14" cy="353.01" r="3.8"/><circle cx="533.88" cy="353.57" r="3.8"/><circle cx="535.63" cy="353.6" r="3.8"/><circle cx="537.38" cy="353.99" r="3.8"/><circle cx="539.12" cy="354.76" r="3.8"/><circle cx="540.87" cy="354.21" r="3.8"/><circle cx="542.61" cy="354.37" r="3.8"/><circle cx="544.36" cy="354.86" r="3.8"/><circle cx="546.1" cy="354.94" r="3.8"/><circle cx="547.85" cy="355.99" r="3.8"/><circle cx="549.59" cy="355.97" r="3.8"/><circle cx="551.34" cy="355.9" r="3.8"/><circle cx="553.08" cy="356.26" r="3.8"/><circle cx="554.83" cy="357.42" r="3.8"/><circle cx="556.57" cy="356.45" r="3.8"/><circle cx="558.31" cy="356.48" r="3.8"/><circle cx="560.06" cy="356.87" r="3.8"/><circle cx="561.8" cy="356.89" r="3.8"/><circle cx="563.55" cy="356.62" r="3.8"/><circle cx="565.29" cy="356.14" r="3.8"/><circle cx="567.04" cy="355.92" r="3.8"/><circle cx="568.78" cy="356.23" r="3.8"/><circle cx="570.53" cy="355.75" r="3.8"/><circle cx="572.27" cy="354.99" r="3.8"/><circle cx="574.02" cy="355.55" r="3.8"/><circle cx="575.76" cy="355.15" r="3.8"/><circle cx="577.51" cy="354.58" r="3.8"/><circle cx="579.25" cy="354.31" r="3.8"/><circle cx="581" cy="354.2" r="3.8"/><circle cx="582.75" cy="353.64" r="3.8"/><circle cx="584.49" cy="353.09" r="3.8"/><circle cx="586.24" cy="353.23" r="3.8"/><circle cx="587.98" cy="352.34" r="3.8"/><circle cx="589.73" cy="352.53" r="3.8"/><circle cx="591.47" cy="351.46" r="3.8"/><circle cx="593.22" cy="351.33" r="3.8"/><circle cx="594.96" cy="350.79" r="3.8"/><circle cx="596.71" cy="350.72" r="3.8"/><circle cx="598.45" cy="349.15" r="3.8"/><circle cx="600.19" cy="348.32" r="3.8"/><circle cx="601.94" cy="347.17" r="3.8"/><circle cx="603.68" cy="345.28" r="3.8"/><circle cx="605.43" cy="342.17" r="3.8"/><circle cx="607.17" cy="337.93" r="3.8"/><circle cx="608.92" cy="333.64" r="3.8"/><circle cx="610.66" cy="331.5" r="3.8"/><circle cx="612.41" cy="329.63" r="3.8"/><circle cx="614.15" cy="329.51" r="3.8"/><circle cx="615.9" cy="328.41" r="3.8"/><circle cx="617.64" cy="326.85" r="3.8"/><circle cx="619.39" cy="325.32" r="3.8"/><circle cx="621.13" cy="324.9" r="3.8"/><circle cx="622.88" cy="323.79" r="3.8"/><circle cx="624.62" cy="322.23" r="3.8"/><circle cx="626.37" cy="323.01" r="3.8"/><circle cx="628.12" cy="323" r="3.8"/><circle cx="629.86" cy="322.9" r="3.8"/><circle cx="631.61" cy="323.32" r="3.8"/><circle cx="633.35" cy="322.26" r="3.8"/><circle cx="635.1" cy="320.64" r="3.8"/><circle cx="636.84" cy="319.68" r="3.8"/><circle cx="638.59" cy="318.55" r="3.8"/><circle cx="640.33" cy="317.76" r="3.8"/><circle cx="642.08" cy="317.34" r="3.8"/><circle cx="643.82" cy="317.08" r="3.8"/><circle cx="645.57" cy="316.35" r="3.8"/><circle cx="647.31" cy="313.75" r="3.8"/><circle cx="649.06" cy="311.73" r="3.8"/><circle cx="650.8" cy="308.09" r="3.8"/><circle cx="652.54" cy="305.54" r="3.8"/><circle cx="654.29" cy="303.62" r="3.8"/><circle cx="656.03" cy="301.3" r="3.8"/><circle cx="657.78" cy="299.31" r="3.8"/><circle cx="659.52" cy="300.65" r="3.8"/><circle cx="661.27" cy="302.87" r="3.8"/><circle cx="663.01" cy="303.82" r="3.8"/><circle cx="664.76" cy="305.18" r="3.8"/><circle cx="666.5" cy="306.48" r="3.8"/><circle cx="668.25" cy="306.61" r="3.8"/><circle cx="670" cy="306.95" r="3.8"/><circle cx="671.74" cy="307.18" r="3.8"/><circle cx="673.49" cy="307.02" r="3.8"/><circle cx="675.23" cy="308" r="3.8"/><circle cx="676.98" cy="308.95" r="3.8"/><circle cx="678.72" cy="309.48" r="3.8"/></g>
</g>
<g>
<path d="M148.4 483.23H355.6M148.4 479.16H355.6M148.4 475.09H355.6M148.4 471.02H355.6M148.4 462.88H355.6M148.4 458.81H355.6M148.4 454.74H355.6M148.4 450.67H355.6M148.4 442.53H355.6M148.4 438.46H355.6M148.4 434.39H355.6M148.4 430.32H355.6" stroke="#bcbcbc" stroke-width="1.8" stroke-dasharray="1 4.56" fill="none"/>
<path d="M189.12 427.4V487.3M230.74 427.4V487.3M272.36 427.4V487.3M313.98 427.4V487.3M147.5 446.4H355.6M147.5 466.7H355.6" stroke="#e0e0e0" stroke-width="2" fill="none"/>
<rect x="147.5" y="427.4" width="208.1" height="59.9" fill="none" stroke="#262626" stroke-width="2.2"/>
<path d="M147.5 487.3v-3.2M147.5 427.4v3.2M189.12 487.3v-3.2M189.12 427.4v3.2M230.74 487.3v-3.2M230.74 427.4v3.2M272.36 487.3v-3.2M272.36 427.4v3.2M313.98 487.3v-3.2M313.98 427.4v3.2M355.6 487.3v-3.2M355.6 427.4v3.2M147.5 446.4h3.2M355.6 446.4h-3.2M147.5 466.7h3.2M355.6 466.7h-3.2M147.5 487.3h3.2M355.6 487.3h-3.2" stroke="#262626" stroke-width="2" fill="none"/>
<text x="139" y="453.5" font-size="18.8" text-anchor="end" textLength="32.35" lengthAdjust="spacingAndGlyphs">200</text>
<text x="139" y="473.8" font-size="18.8" text-anchor="end" textLength="32.35" lengthAdjust="spacingAndGlyphs">100</text>
<text x="139" y="494.4" font-size="18.8" text-anchor="end" textLength="10.78" lengthAdjust="spacingAndGlyphs">0</text>
<g fill="none" stroke="#0072BD" stroke-width="2.2"><circle cx="168" cy="451.2" r="3.8"/><circle cx="169.75" cy="454.7" r="3.8"/><circle cx="171.49" cy="457.3" r="3.8"/><circle cx="173.24" cy="459.2" r="3.8"/><circle cx="174.98" cy="461.1" r="3.8"/><circle cx="176.72" cy="463" r="3.8"/><circle cx="178.47" cy="462.4" r="3.8"/><circle cx="180.22" cy="461.8" r="3.8"/><circle cx="181.96" cy="461.1" r="3.8"/><circle cx="183.71" cy="457.3" r="3.8"/><circle cx="185.45" cy="459.2" r="3.8"/><circle cx="187.19" cy="462.4" r="3.8"/><circle cx="188.94" cy="463" r="3.8"/><circle cx="190.69" cy="461.8" r="3.8"/><circle cx="192.43" cy="460.5" r="3.8"/><circle cx="194.18" cy="456.6" r="3.8"/><circle cx="195.92" cy="465" r="3.8"/><circle cx="197.66" cy="463.7" r="3.8"/><circle cx="199.41" cy="463" r="3.8"/><circle cx="201.16" cy="462.4" r="3.8"/><circle cx="202.9" cy="461.1" r="3.8"/><circle cx="204.65" cy="459.2" r="3.8"/><circle cx="206.39" cy="452.7" r="3.8"/><circle cx="208.13" cy="448.9" r="3.8"/><circle cx="209.88" cy="456.6" r="3.8"/><circle cx="211.62" cy="454" r="3.8"/><circle cx="213.37" cy="456.6" r="3.8"/><circle cx="215.12" cy="450.8" r="3.8"/><circle cx="216.86" cy="437.3" r="3.8"/><circle cx="218.61" cy="437.3" r="3.8"/><circle cx="220.35" cy="437.3" r="3.8"/><circle cx="222.09" cy="444.4" r="3.8"/><circle cx="223.84" cy="464.3" r="3.8"/><circle cx="225.59" cy="444.4" r="3.8"/><circle cx="227.33" cy="459.2" r="3.8"/><circle cx="229.07" cy="461.1" r="3.8"/><circle cx="230.82" cy="460.5" r="3.8"/><circle cx="232.56" cy="467.5" r="3.8"/><circle cx="234.31" cy="468.2" r="3.8"/><circle cx="236.06" cy="478.5" r="3.8"/><circle cx="237.8" cy="481.1" r="3.8"/><circle cx="239.55" cy="471.4" r="3.8"/><circle cx="241.29" cy="468.8" r="3.8"/><circle cx="243.04" cy="477.8" r="3.8"/><circle cx="244.78" cy="486.2" r="3.8"/><circle cx="246.53" cy="487.2" r="3.8"/><circle cx="248.27" cy="487.2" r="3.8"/><circle cx="250.01" cy="487.2" r="3.8"/><circle cx="251.76" cy="482.4" r="3.8"/><circle cx="253.5" cy="487.2" r="3.8"/><circle cx="255.25" cy="487.2" r="3.8"/><circle cx="257" cy="487.2" r="3.8"/><circle cx="258.74" cy="487.2" r="3.8"/><circle cx="260.49" cy="475.9" r="3.8"/><circle cx="262.23" cy="481.1" r="3.8"/><circle cx="263.98" cy="478.5" r="3.8"/><circle cx="265.72" cy="474.6" r="3.8"/><circle cx="267.47" cy="470.8" r="3.8"/><circle cx="269.21" cy="468.2" r="3.8"/><circle cx="270.96" cy="465.6" r="3.8"/><circle cx="272.7" cy="463.7" r="3.8"/><circle cx="274.44" cy="462.4" r="3.8"/><circle cx="276.19" cy="461.8" r="3.8"/><circle cx="277.94" cy="466.3" r="3.8"/><circle cx="279.68" cy="470.2" r="3.8"/><circle cx="281.43" cy="474" r="3.8"/><circle cx="283.17" cy="478.2" r="3.8"/><circle cx="284.92" cy="481.7" r="3.8"/><circle cx="286.66" cy="485.6" r="3.8"/><circle cx="288.4" cy="487.2" r="3.8"/><circle cx="290.15" cy="487.2" r="3.8"/><circle cx="291.89" cy="487.2" r="3.8"/><circle cx="293.64" cy="487.2" r="3.8"/><circle cx="295.38" cy="483" r="3.8"/><circle cx="297.13" cy="474" r="3.8"/><circle cx="298.88" cy="463" r="3.8"/><circle cx="300.62" cy="456.4" r="3.8"/><circle cx="302.37" cy="475.3" r="3.8"/><circle cx="304.11" cy="487.2" r="3.8"/><circle cx="305.86" cy="487.2" r="3.8"/><circle cx="307.6" cy="487.2" r="3.8"/><circle cx="309.35" cy="487.2" r="3.8"/><circle cx="311.09" cy="487.2" r="3.8"/><circle cx="312.84" cy="482.4" r="3.8"/><circle cx="314.58" cy="475.3" r="3.8"/><circle cx="316.33" cy="465" r="3.8"/><circle cx="318.07" cy="456.6" r="3.8"/><circle cx="319.81" cy="448.9" r="3.8"/><circle cx="321.56" cy="440.5" r="3.8"/><circle cx="323.31" cy="448.2" r="3.8"/><circle cx="325.05" cy="448.9" r="3.8"/><circle cx="326.8" cy="443.1" r="3.8"/><circle cx="328.54" cy="439.9" r="3.8"/><circle cx="330.28" cy="436" r="3.8"/><circle cx="332.03" cy="432.2" r="3.8"/><circle cx="333.77" cy="427.7" r="3.8"/><circle cx="335.52" cy="427" r="3.8"/></g>
</g>
<g>
<path d="M491.6 479.81H698.6M491.6 472.32H698.6M491.6 464.83H698.6M491.6 449.85H698.6M491.6 442.36H698.6M491.6 434.87H698.6" stroke="#bcbcbc" stroke-width="1.8" stroke-dasharray="1 4.56" fill="none"/>
<path d="M532.32 427.4V487.3M573.94 427.4V487.3M615.56 427.4V487.3M657.18 427.4V487.3M490.7 427.4H698.6M490.7 457.35H698.6" stroke="#e0e0e0" stroke-width="2" fill="none"/>
<rect x="490.7" y="427.4" width="207.9" height="59.9" fill="none" stroke="#262626" stroke-width="2.2"/>
<path d="M490.7 487.3v-3.2M490.7 427.4v3.2M532.32 487.3v-3.2M532.32 427.4v3.2M573.94 487.3v-3.2M573.94 427.4v3.2M615.56 487.3v-3.2M615.56 427.4v3.2M657.18 487.3v-3.2M657.18 427.4v3.2M698.8 487.3v-3.2M698.8 427.4v3.2M490.7 427.4h3.2M698.6 427.4h-3.2M490.7 457.35h3.2M698.6 457.35h-3.2M490.7 487.3h3.2M698.6 487.3h-3.2" stroke="#262626" stroke-width="2" fill="none"/>
<text x="481.6" y="434.5" font-size="18.8" text-anchor="end" textLength="32.35" lengthAdjust="spacingAndGlyphs">400</text>
<text x="481.6" y="464.45" font-size="18.8" text-anchor="end" textLength="32.35" lengthAdjust="spacingAndGlyphs">200</text>
<text x="481.6" y="494.4" font-size="18.8" text-anchor="end" textLength="10.78" lengthAdjust="spacingAndGlyphs">0</text>
<g fill="none" stroke="#0072BD" stroke-width="2.2"><circle cx="511.2" cy="481.1" r="3.8"/><circle cx="512.94" cy="482.4" r="3.8"/><circle cx="514.69" cy="483.6" r="3.8"/><circle cx="516.43" cy="484.9" r="3.8"/><circle cx="518.18" cy="485.6" r="3.8"/><circle cx="519.92" cy="485" r="3.8"/><circle cx="521.67" cy="481.7" r="3.8"/><circle cx="523.41" cy="483" r="3.8"/><circle cx="525.16" cy="485" r="3.8"/><circle cx="526.9" cy="486.2" r="3.8"/><circle cx="528.65" cy="487.2" r="3.8"/><circle cx="530.39" cy="487.2" r="3.8"/><circle cx="532.14" cy="487.2" r="3.8"/><circle cx="533.88" cy="487.2" r="3.8"/><circle cx="535.63" cy="487.2" r="3.8"/><circle cx="537.38" cy="486.2" r="3.8"/><circle cx="539.12" cy="481.7" r="3.8"/><circle cx="540.87" cy="478.5" r="3.8"/><circle cx="542.61" cy="475.3" r="3.8"/><circle cx="544.36" cy="468.2" r="3.8"/><circle cx="546.1" cy="454" r="3.8"/><circle cx="547.85" cy="433.4" r="3.8"/><circle cx="549.59" cy="446.3" r="3.8"/><circle cx="551.34" cy="454.3" r="3.8"/><circle cx="553.08" cy="454" r="3.8"/><circle cx="554.83" cy="467.5" r="3.8"/><circle cx="556.57" cy="474.6" r="3.8"/><circle cx="558.31" cy="482.4" r="3.8"/><circle cx="560.06" cy="472" r="3.8"/><circle cx="561.8" cy="474.6" r="3.8"/><circle cx="563.55" cy="477.2" r="3.8"/><circle cx="565.29" cy="479.8" r="3.8"/><circle cx="567.04" cy="482.4" r="3.8"/><circle cx="568.78" cy="485.3" r="3.8"/><circle cx="570.53" cy="487.2" r="3.8"/><circle cx="572.27" cy="487.2" r="3.8"/><circle cx="574.02" cy="487.2" r="3.8"/><circle cx="575.76" cy="487.2" r="3.8"/><circle cx="577.51" cy="487.2" r="3.8"/><circle cx="579.25" cy="487.2" r="3.8"/><circle cx="581" cy="487.2" r="3.8"/><circle cx="582.75" cy="485.6" r="3.8"/><circle cx="584.49" cy="483.6" r="3.8"/><circle cx="586.24" cy="470.1" r="3.8"/><circle cx="587.98" cy="455.3" r="3.8"/><circle cx="589.73" cy="441.2" r="3.8"/><circle cx="591.47" cy="437.3" r="3.8"/><circle cx="593.22" cy="434.7" r="3.8"/><circle cx="594.96" cy="436" r="3.8"/><circle cx="596.71" cy="443.1" r="3.8"/><circle cx="598.45" cy="448.2" r="3.8"/><circle cx="600.19" cy="466.9" r="3.8"/><circle cx="601.94" cy="474" r="3.8"/><circle cx="603.68" cy="475.3" r="3.8"/><circle cx="605.43" cy="478.5" r="3.8"/><circle cx="607.17" cy="481.7" r="3.8"/><circle cx="608.92" cy="484.3" r="3.8"/><circle cx="610.66" cy="486.2" r="3.8"/><circle cx="612.41" cy="487.2" r="3.8"/><circle cx="614.15" cy="487.2" r="3.8"/><circle cx="615.9" cy="487.2" r="3.8"/><circle cx="617.64" cy="487.2" r="3.8"/><circle cx="619.39" cy="487.2" r="3.8"/><circle cx="621.13" cy="487.2" r="3.8"/><circle cx="622.88" cy="487.2" r="3.8"/><circle cx="624.62" cy="487.2" r="3.8"/><circle cx="626.37" cy="482.4" r="3.8"/><circle cx="628.12" cy="477.8" r="3.8"/><circle cx="629.86" cy="473.3" r="3.8"/><circle cx="631.61" cy="469.5" r="3.8"/><circle cx="633.35" cy="465.6" r="3.8"/><circle cx="635.1" cy="454.7" r="3.8"/><circle cx="636.84" cy="454" r="3.8"/><circle cx="638.59" cy="453.4" r="3.8"/><circle cx="640.33" cy="454" r="3.8"/><circle cx="642.08" cy="457.3" r="3.8"/><circle cx="643.82" cy="462.4" r="3.8"/><circle cx="645.57" cy="467.5" r="3.8"/><circle cx="647.31" cy="472" r="3.8"/><circle cx="649.06" cy="476.6" r="3.8"/><circle cx="650.8" cy="481.1" r="3.8"/><circle cx="652.54" cy="485" r="3.8"/><circle cx="654.29" cy="487.2" r="3.8"/><circle cx="656.03" cy="487.2" r="3.8"/><circle cx="657.78" cy="487.2" r="3.8"/><circle cx="659.52" cy="487.2" r="3.8"/><circle cx="661.27" cy="487.2" r="3.8"/><circle cx="663.01" cy="487.2" r="3.8"/><circle cx="664.76" cy="487.2" r="3.8"/><circle cx="666.5" cy="483.6" r="3.8"/><circle cx="668.25" cy="479.8" r="3.8"/><circle cx="670" cy="476.6" r="3.8"/><circle cx="671.74" cy="475.9" r="3.8"/><circle cx="673.49" cy="475.3" r="3.8"/><circle cx="675.23" cy="476" r="3.8"/><circle cx="676.98" cy="477.2" r="3.8"/><circle cx="678.72" cy="477.8" r="3.8"/></g>
</g>
<text x="250.35" y="31.7" font-size="20.4" text-anchor="middle" textLength="128.6" lengthAdjust="spacingAndGlyphs" font-weight="bold" fill="#000">Figure 1 low</text>
<g transform="translate(83.9 74.45) rotate(-90)">
<text x="-51" y="0" font-size="20.6" textLength="102" lengthAdjust="spacingAndGlyphs">PRESSURE</text>
</g>
<g transform="translate(436.9 74.45) rotate(-90)">
<text x="-33.09" y="0" font-size="20.6" textLength="66.17" lengthAdjust="spacingAndGlyphs">THETA</text>
</g>
<g transform="translate(85.5 201.85) rotate(-90)">
<text x="-44.59" y="0" font-size="20.6" textLength="28.91" lengthAdjust="spacingAndGlyphs">AIR</text>
<text x="-10.78" y="10" font-size="16" textLength="10.18" lengthAdjust="spacingAndGlyphs">T</text>
<text x="-0.6" y="0" font-size="20.6" textLength="43.16" lengthAdjust="spacingAndGlyphs">EMP</text>
</g>
<g transform="translate(454.3 201.85) rotate(-90)">
<text x="-47.95" y="0" font-size="20.6" textLength="95.9" lengthAdjust="spacingAndGlyphs">RAINFALL</text>
</g>
<g transform="translate(83.8 329.35) rotate(-90)">
<text x="-53.04" y="0" font-size="20.6" textLength="106.69" lengthAdjust="spacingAndGlyphs">MIXDEPTH</text>
</g>
<g transform="translate(459.6 329.35) rotate(-90)">
<text x="-54.77" y="0" font-size="20.6" textLength="109.54" lengthAdjust="spacingAndGlyphs">H2OMIXRA</text>
</g>
<g transform="translate(85.6 457.35) rotate(-90)">
<text x="-45.2" y="0" font-size="20.6" textLength="49.88" lengthAdjust="spacingAndGlyphs">TERR</text>
<text x="7.28" y="10" font-size="16" textLength="13.44" lengthAdjust="spacingAndGlyphs">M</text>
<text x="23.22" y="0" font-size="20.6" textLength="22.4" lengthAdjust="spacingAndGlyphs">SL</text>
</g>
<g transform="translate(399 457.35) rotate(-90)">
<text x="-46.88" y="0" font-size="20.6" textLength="42.04" lengthAdjust="spacingAndGlyphs">SUN</text>
<text x="0.66" y="10" font-size="16" textLength="8.14" lengthAdjust="spacingAndGlyphs">F</text>
<text x="10.41" y="0" font-size="20.6" textLength="35.83" lengthAdjust="spacingAndGlyphs">LUX</text>
</g>
<text transform="translate(159.8 509.4) rotate(-45)" font-size="18.8" text-anchor="end" textLength="51" lengthAdjust="spacingAndGlyphs">09/27</text>
<text transform="translate(201.42 509.4) rotate(-45)" font-size="18.8" text-anchor="end" textLength="51" lengthAdjust="spacingAndGlyphs">09/28</text>
<text transform="translate(243.04 509.4) rotate(-45)" font-size="18.8" text-anchor="end" textLength="51" lengthAdjust="spacingAndGlyphs">09/29</text>
<text transform="translate(284.66 509.4) rotate(-45)" font-size="18.8" text-anchor="end" textLength="51" lengthAdjust="spacingAndGlyphs">09/30</text>
<text transform="translate(326.28 509.4) rotate(-45)" font-size="18.8" text-anchor="end" textLength="51" lengthAdjust="spacingAndGlyphs">10/01</text>
<text transform="translate(367.9 509.4) rotate(-45)" font-size="18.8" text-anchor="end" textLength="51" lengthAdjust="spacingAndGlyphs">10/02</text>
<text x="251.55" y="575.1" font-size="20.6" text-anchor="middle" textLength="48.2" lengthAdjust="spacingAndGlyphs">Time</text>
<text transform="translate(503 509.4) rotate(-45)" font-size="18.8" text-anchor="end" textLength="51" lengthAdjust="spacingAndGlyphs">09/27</text>
<text transform="translate(544.62 509.4) rotate(-45)" font-size="18.8" text-anchor="end" textLength="51" lengthAdjust="spacingAndGlyphs">09/28</text>
<text transform="translate(586.24 509.4) rotate(-45)" font-size="18.8" text-anchor="end" textLength="51" lengthAdjust="spacingAndGlyphs">09/29</text>
<text transform="translate(627.86 509.4) rotate(-45)" font-size="18.8" text-anchor="end" textLength="51" lengthAdjust="spacingAndGlyphs">09/30</text>
<text transform="translate(669.48 509.4) rotate(-45)" font-size="18.8" text-anchor="end" textLength="51" lengthAdjust="spacingAndGlyphs">10/01</text>
<text transform="translate(711.1 509.4) rotate(-45)" font-size="18.8" text-anchor="end" textLength="51" lengthAdjust="spacingAndGlyphs">10/02</text>
<text x="594.75" y="575.1" font-size="20.6" text-anchor="middle" textLength="48.2" lengthAdjust="spacingAndGlyphs">Time</text>
</svg></body></html>
